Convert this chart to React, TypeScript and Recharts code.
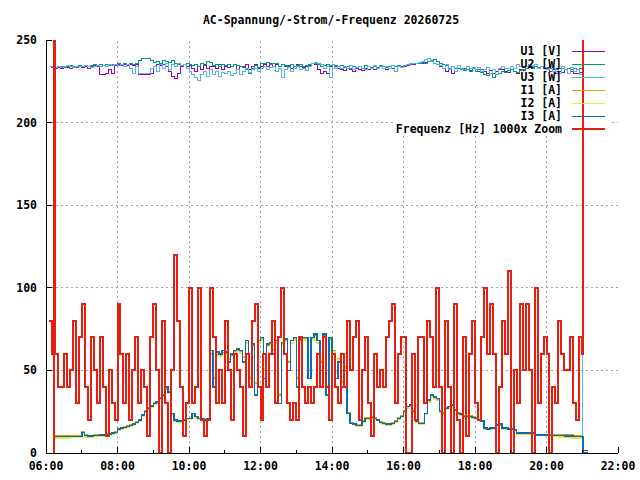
import React from "react";
import { LineChart, Line, XAxis, YAxis, Legend } from "recharts";

// sample times in minutes after midnight (5 min logger + two glitch samples at start and end)
const sampleMinutes = [
  365, 370, 373, 374, 375, 380, 385, 390, 395, 400, 405, 410, 415,
  ...Array.from({ length: 168 }, (_, i) => 420 + 5 * i),
  1260, 1261, 1270,
];

// voltages [V]
const u1 = [
  234, 233.5, 233.5, 233.5, 233, 233.5, 233, 234, 233.5, 233, 234, 233.5, 234,
  233.5, 234, 233, 234, 234.5, 234, 229, 229, 229.5, 232, 230, 234.5,
  235, 234.5, 235, 234.5, 235, 234.5, 235, 229, 229, 229, 229, 230,
  234, 235, 234.5, 235, 234, 231, 228, 226.5, 230, 234, 235, 234,
  234.5, 233, 231, 234, 232, 235, 233, 234, 234, 233, 235, 232,
  234, 233.5, 234, 235, 232, 234, 234, 235, 232, 234, 235, 233,
  234, 235, 234, 235.5, 234, 235, 234, 235, 234, 234.5, 233, 234,
  235, 234, 233.5, 234, 234.5, 235.5, 235, 232, 230, 231, 230, 234,
  235, 234, 233, 232, 231.5, 233, 232, 231, 233, 232, 231.5, 233,
  232, 233, 232, 233.5, 234, 233, 232, 234, 233, 231, 234, 233.5,
  234, 234.5, 235, 235, 235.5, 236, 236, 236.5, 237, 237.5, 238, 237,
  234, 233, 231, 232, 230, 231, 233, 232, 233, 232, 231.5, 233,
  232, 231, 232, 231, 230, 231.5, 230, 231, 232, 232, 231, 230.5,
  232, 231, 230, 232, 231.5, 233, 234, 233, 234, 233.5, 234, 233,
  233.5, 231, 232, 230, 231, 230.5, 232, 230, 231, 230, 229.5, 230.5,
  232, 1.5, 1.5,
];
const u2 = [
  234, 234, 234, 234, 233.5, 234, 234, 233.5, 234, 234.5, 234, 234, 234.5,
  234, 234.5, 234, 234.5, 235, 234.5, 235, 234.5, 235, 234.5, 235, 235,
  235.5, 235, 235.5, 235, 235.5, 235, 236, 237.5, 238.5, 239, 238.5, 237.5,
  236.5, 237, 236, 237.5, 237, 236.5, 237.5, 236, 235, 234.5, 235, 235.5,
  235, 234.5, 235, 234, 235.5, 234.5, 237, 236.5, 234.5, 235, 234, 235,
  234.5, 235, 234, 235, 234.5, 234, 233.5, 232, 230, 233, 234.5, 233.5,
  236, 235.5, 236.5, 235, 236, 235.5, 234, 235, 234.5, 234, 235, 234,
  234.5, 235, 234, 234.5, 235, 236, 235.5, 235, 234, 234.5, 235, 234.5,
  235, 234.5, 234, 234.5, 233.5, 234, 233, 234, 233.5, 234, 233, 234.5,
  234, 233.5, 234, 233, 234.5, 234, 233.5, 234, 233, 234, 234.5, 234,
  234.5, 235, 235, 235.5, 236, 235.5, 236.5, 236, 237, 237.5, 238, 237,
  236, 235, 234.5, 233, 234, 232.5, 233, 232, 231.5, 232, 231, 232.5,
  231, 232, 230.5, 229, 228.5, 229.5, 227.5, 229, 230, 231, 230.5, 231.5,
  232, 231, 230.5, 231.5, 232, 232.5, 233.5, 233, 234, 233.5, 234, 233,
  233, 232.5, 233, 232, 233, 232.5, 232, 233, 232, 232.5, 232, 233,
  232.5, 0.6, 0.6,
];
const u3 = [
  234, 234, 234, 0, 233.5, 234, 233.5, 234, 234.5, 234, 233.5, 234, 234,
  234, 234.5, 234, 233.5, 234, 234.5, 234, 234.5, 234, 235, 234.5, 235,
  234.5, 235, 234, 235, 233, 230, 234, 230, 229.5, 230, 229.5, 233,
  234, 231, 235, 233, 236, 232, 235, 234, 236, 234.5, 235, 233,
  231, 229, 227, 225.5, 229, 231, 228, 232, 229, 231, 228, 230.5,
  229.5, 231, 228.5, 230, 232, 229, 231, 233, 230.5, 232, 233, 231,
  233, 234, 232, 233.5, 234, 231, 233, 227, 232, 233.5, 231, 233,
  234, 232, 233, 231.5, 234, 236, 236.5, 236, 235, 233, 234, 227,
  235, 233, 234, 232.5, 234, 233, 234.5, 232, 233.5, 234, 233, 232,
  234, 233, 234.5, 233, 234, 232.5, 234, 233, 234.5, 231, 234, 233.5,
  234.5, 235, 235.5, 236, 235.5, 236.5, 237, 238, 238.5, 237, 236, 235,
  234.5, 233, 235, 232, 234, 231, 234.5, 233, 232, 234, 233, 233.5,
  232, 233.5, 231, 232, 233.5, 230, 232, 229, 233, 234, 232.5, 233,
  234, 233, 235, 234, 233.5, 234, 235, 234.5, 235, 233, 234, 233.5,
  232, 234, 231, 233, 230, 234, 232, 230, 233.5, 231, 232, 229,
  231, 0.4, 0.4,
];

// currents [A]
const i1 = [
  null, null, null, 10.3, 10.3, 10.3, 10.3, 10.3, 10.3, 10.3, 10.3, 10.3, 10.3,
  12.8, 10.8, 10.5, 10.6, 10.8, 10.9, 11.1, 11.3, 11.5, 11.8, 12.3, 12.8,
  14.6, 15.2, 15.7, 16.2, 16.8, 17.7, 18.8, 20.3, 23.3, 25.3, 27.3, 28.8,
  30.3, 31.3, 33.3, 35.3, 39, 36.5, 23.5, 19.5, 19, 19, 19.5, 20.5,
  20.8, 23.5, 21.5, 20.8, 20.5, 19.5, 20.5, 60, 45, 59.5, 59, 60.5,
  60, 57, 59, 61, 62, 61, 58, 67, 45, 65, 42, 67,
  69, 50, 65, 66, 62, 67, 35, 66, 68, 55, 67, 69,
  45, 68, 69, 69, 50, 69, 71, 67, 55, 71, 40, 69,
  62, 48, 57, 43, 52, 24.5, 18.5, 17.8, 17, 16.8, 19.3, 21.3,
  21.3, 21.8, 21.3, 20.3, 18.8, 18.3, 17.8, 17.8, 18.3, 19.3, 21.3, 22.3,
  25.3, 28, 28.8, 25.3, 19.3, 18.3, 18.3, 24, 31.5, 34.5, 33.5, 32.5,
  25.3, 24.3, 27.3, 28, 28.5, 26.3, 24.3, 23.8, 22.3, 22.3, 22.3, 21.8,
  21.3, 20.3, 19.8, 15.3, 14.8, 15.3, 15.3, 17.3, 17.8, 15.3, 15.3, 14.8,
  14.8, 14.3, 12.3, 12.3, 12.3, 12.3, 12.3, 12.3, 11.3, 11.3, 11.3, 11.3,
  11.3, 10.8, 10.8, 10.8, 10.8, 10.8, 11, 11, 11, 10.5, 10.3, 10.3,
  10.3, null, null,
];
const i2 = [
  null, null, null, 9.2, 9.2, 9.2, 9.2, 9.2, 9.2, 9.5, 9.5, 9.5, 9.5,
  12, 9.8, 9.6, 9.7, 9.9, 10, 10.2, 10.4, 10.6, 10.9, 11.4, 11.9,
  13.8, 14.4, 14.9, 15.4, 15.9, 16.9, 17.9, 19.4, 22.4, 24.4, 26.4, 27.9,
  29.4, 30.4, 32.4, 34.4, 38.5, 36, 23, 19, 18.7, 18.7, 19.2, 20.2,
  20.3, 23, 21, 20.3, 20.2, 19.2, 20.2, 59.5, 46, 59, 58.5, 60,
  59.5, 57.5, 58.5, 60.5, 61.5, 60.5, 58.5, 66.5, 46, 64.5, 43, 66.5,
  68.5, 51, 64.5, 65.5, 62.5, 66.5, 36, 65.5, 67.5, 56, 66.5, 68.5,
  46, 67.5, 68.5, 68.5, 51, 68.5, 70.5, 66.5, 56, 70.5, 41, 68.5,
  61.5, 48.5, 56.5, 43.5, 51.5, 23.8, 17.8, 17.2, 16.3, 16.1, 18.6, 20.6,
  20.6, 21.1, 20.6, 19.6, 18.1, 17.6, 17.1, 17.1, 17.6, 18.6, 20.6, 21.6,
  24.6, 27.3, 28.1, 24.6, 18.6, 17.6, 17.6, 23.3, 30.8, 33.8, 32.8, 31.8,
  24.6, 23.6, 26.6, 27.3, 27.8, 25.6, 23.6, 23.1, 21.6, 21.6, 21.6, 21.1,
  20.6, 19.6, 19.1, 14.6, 14.1, 14.6, 14.6, 16.6, 17.1, 14.6, 14.6, 14.1,
  14.1, 13.6, 11.6, 11.6, 11.6, 11.6, 11.6, 11.6, 10.6, 10.6, 10.6, 10.6,
  10.6, 10, 10, 10, 9.8, 9.8, 9.6, 9.3, 9.2, 9.2, 9.2, 9.2,
  9.2, null, null,
];
const i3 = [
  null, null, 0, 10, 10, 10, 10, 10, 10, 10, 10, 10, 10,
  12.5, 10.5, 10.2, 10.3, 10.5, 10.6, 10.8, 11, 11.2, 11.5, 12, 12.5,
  14.5, 15, 15.5, 16, 16.5, 17.5, 18.5, 20, 23, 25, 27, 28.5,
  30, 31, 33, 35, 40, 37, 24, 20, 19.5, 19.5, 20, 21,
  21, 24, 22, 21, 21, 20, 21, 62, 40, 61, 60, 62,
  61, 55, 60, 62, 63, 62, 55, 68, 40, 66, 35, 68,
  70, 45, 66, 67, 60, 68, 30, 67, 69, 50, 68, 70,
  40, 69, 70, 70, 45, 70, 72, 68, 50, 72, 35, 70,
  60, 45, 55, 40, 50, 24, 18, 17.5, 16.5, 16.5, 19, 21,
  21, 21.5, 21, 20, 18.5, 18, 17.5, 17.5, 18, 19, 21, 22,
  25, 28, 29, 25, 19, 18, 18, 24, 32, 35, 34, 33,
  25, 24, 27, 28, 29, 26, 24, 23.5, 22, 22, 22, 21.5,
  21, 20, 19.5, 15, 14.5, 15, 15, 17, 17.5, 15, 15, 14.5,
  14.5, 14, 12, 12, 12, 12, 12, 12, 11, 11, 11, 11,
  11, 10.5, 10.5, 10.5, 10.5, 10.5, 10.2, 10.2, 10.2, 10, 10, 10,
  10, 0.4, 0.4,
];

// frequency, (f - 49.95 Hz) * 1000; the glitch samples lie far outside the axis
const freq = [
  80, 60, -1000, 1000, 60, 40, 40, 60, 40, 50, 80, 30, 70,
  90, 40, 20, 70, 50, 30, 70, 40, 10, 50, 30, 20,
  90, 60, 30, 60, 20, 50, 70, 30, 50, 40, 10, 70,
  90, 50, 0, 80, 30, 0, 50, 120, 80, 40, 10, 30,
  100, 30, 40, 100, 20, 10, 20, 100, 70, 30, 50, 30,
  80, 50, 20, 60, 50, 40, 10, 60, 40, 80, 90, 40,
  20, 60, 40, 60, 80, 30, 70, 100, 60, 30, 20, 30,
  20, 70, 40, 30, 40, 30, 40, 60, 40, 70, 40, 20,
  60, 40, 30, 60, 40, 80, 50, 70, 80, 20, 50, 70,
  30, 10, 60, 40, 50, 40, 70, 80, 90, 30, 60, 70,
  70, 0, 0, 60, 20, 70, 70, 30, 80, 70, 40, 100,
  40, 0, 80, 40, 0, 90, 20, 0, 70, 10, 60, 80,
  30, 20, 70, 100, 60, 90, 60, 0, 40, 80, 60, 110,
  0, 50, 30, 90, 50, 90, 50, 0, 100, 30, 60, 70,
  60, 0, 40, 30, 80, 60, 50, 50, 70, 30, 20, 70,
  60, 1000, 1000,
];

const xTicks = [360, 420, 480, 540, 600, 660, 720, 780, 840, 900, 960, 1020, 1080, 1140, 1200, 1260, 1320];
const yTicks = [0, 50, 100, 150, 200, 250];
const gridX = [480, 600, 720, 840, 960, 1080, 1200];
const gridY = [50, 100, 150, 200];

const series = [
  { key: "u1", name: "U1 [V]", color: "#9400d3", width: 1 },
  { key: "u2", name: "U2 [W]", color: "#009e73", width: 1 },
  { key: "u3", name: "U3 [W]", color: "#56b4e9", width: 1 },
  { key: "i1", name: "I1 [A]", color: "#e69f00", width: 1.5 },
  { key: "i2", name: "I2 [A]", color: "#f0e442", width: 1.5 },
  { key: "i3", name: "I3 [A]", color: "#0072b2", width: 1.5 },
  { key: "f", name: "Frequenz [Hz] 1000x Zoom", color: "#e51e10", width: 2 },
];

const rows = sampleMinutes.map((t, i) => ({
  t,
  u1: u1[i],
  u2: u2[i],
  u3: u3[i],
  i1: i1[i],
  i2: i2[i],
  i3: i3[i],
  f: freq[i],
}));

// gnuplot keeps the grid out of the key box (top right corner)
const KEY_BOTTOM = 192;
const KEY_LEFT = 946;
const KEY_RIGHT = 1310;
const X_MIN = 360;
const X_MAX = 1320;
const Y_MAX = 250;

// grid lines as two-point segments in data units, drawn below the series
const gridSegments = [
  ...gridX.map((v) => [
    { t: v, g: 0 },
    { t: v, g: v > KEY_LEFT ? KEY_BOTTOM : Y_MAX },
  ]),
  ...gridY.map((v) => [
    { t: X_MIN, g: v },
    { t: v >= KEY_BOTTOM ? KEY_LEFT : X_MAX, g: v },
  ]),
  [
    { t: KEY_RIGHT, g: 200 },
    { t: X_MAX, g: 200 },
  ],
];

const FONT = '"DejaVu Sans Mono", "Liberation Mono", monospace';
const tickText = { fontFamily: FONT, fontSize: 11.5, fontWeight: "bold" as const, fill: "#000" };

const hhmm = (m: number) => `${String(Math.floor(m / 60)).padStart(2, "0")}:00`;
const isMajor = (m: number) => (m / 60) % 2 === 0;

function BottomTick(props: any) {
  const { x, y, payload } = props;
  const major = isMajor(payload.value);
  return (
    <g>
      <line x1={x} y1={y} x2={x} y2={y - (major ? 6 : 3)} stroke="#000" />
      {major && (
        <text x={x} y={y + 17} textAnchor="middle" style={tickText}>
          {hhmm(payload.value)}
        </text>
      )}
    </g>
  );
}

function TopTick(props: any) {
  const { x, y, payload } = props;
  const major = isMajor(payload.value);
  return <line x1={x} y1={y} x2={x} y2={y + (major ? 6 : 3)} stroke="#000" />;
}

function LeftTick(props: any) {
  const { x, y, payload } = props;
  return (
    <g>
      <line x1={x} y1={y} x2={x + 6} y2={y} stroke="#000" />
      <text x={x - 9} y={y + 4} textAnchor="end" style={tickText}>
        {payload.value}
      </text>
    </g>
  );
}

function RightTick(props: any) {
  const { x, y } = props;
  return <line x1={x} y1={y} x2={x - 6} y2={y} stroke="#000" />;
}

function KeyBox() {
  return (
    <div style={{ fontFamily: FONT, fontSize: 11.5, fontWeight: "bold", color: "#000" }}>
      {series.map((s) => (
        <div
          key={s.key}
          style={{ height: 13, lineHeight: "13px", display: "flex", justifyContent: "flex-end", alignItems: "center" }}
        >
          <span style={{ whiteSpace: "pre" }}>{s.name}</span>
          <span style={{ display: "inline-block", width: 10 }} />
          <span style={{ display: "inline-block", width: 33, height: s.key === "f" ? 2 : 1, background: s.color }} />
        </div>
      ))}
    </div>
  );
}

export default function App() {
  return (
    <div style={{ position: "absolute", left: 0, top: 0, width: 640, height: 480, background: "#fff" }}>
      <div
        style={{
          position: "absolute",
          left: 331,
          top: 14,
          transform: "translateX(-50%)",
          whiteSpace: "nowrap",
          fontFamily: FONT,
          fontSize: 11.5,
          fontWeight: "bold",
          lineHeight: "12px",
          zIndex: 2,
        }}
      >
        AC-Spannung/-Strom/-Frequenz 20260725
      </div>
      <LineChart
        width={640}
        height={480}
        data={rows}
        margin={{ top: 40, right: 22, bottom: 0, left: 8 }}
        style={{ shapeRendering: "crispEdges" }}
      >
        <XAxis
          xAxisId="b"
          orientation="bottom"
          type="number"
          dataKey="t"
          domain={[X_MIN, X_MAX]}
          ticks={xTicks}
          interval={0}
          height={27}
          tickSize={0}
          tickMargin={0}
          tickLine={false}
          axisLine={{ stroke: "#000" }}
          tick={BottomTick}
        />
        <XAxis
          xAxisId="t"
          orientation="top"
          type="number"
          dataKey="t"
          domain={[X_MIN, X_MAX]}
          ticks={xTicks}
          interval={0}
          height={0}
          tickSize={0}
          tickMargin={0}
          tickLine={false}
          axisLine={{ stroke: "#000" }}
          tick={TopTick}
        />
        <YAxis
          yAxisId="l"
          orientation="left"
          type="number"
          domain={[0, Y_MAX]}
          ticks={yTicks}
          interval={0}
          allowDataOverflow
          width={38}
          tickSize={0}
          tickMargin={0}
          tickLine={false}
          axisLine={{ stroke: "#000" }}
          tick={LeftTick}
        />
        <YAxis
          yAxisId="r"
          orientation="right"
          type="number"
          domain={[0, Y_MAX]}
          ticks={yTicks}
          interval={0}
          width={0}
          tickSize={0}
          tickMargin={0}
          tickLine={false}
          axisLine={{ stroke: "#000" }}
          tick={RightTick}
        />
        {gridSegments.map((seg, i) => (
          <Line
            key={`grid${i}`}
            xAxisId="b"
            yAxisId="l"
            data={seg}
            dataKey="g"
            type="linear"
            stroke="#a0a0a0"
            strokeWidth={1}
            strokeDasharray="2 3"
            dot={false}
            activeDot={false}
            legendType="none"
            isAnimationActive={false}
          />
        ))}
        {series.map((s) => (
          <Line
            key={s.key}
            xAxisId="b"
            yAxisId="l"
            type="stepAfter"
            dataKey={s.key}
            name={s.name}
            stroke={s.color}
            strokeWidth={s.width}
            dot={false}
            activeDot={false}
            isAnimationActive={false}
          />
        ))}
        <Legend
          layout="horizontal"
          align="center"
          verticalAlign="middle"
          content={() => <KeyBox />}
          wrapperStyle={{ position: "absolute", left: 0, top: 44.5, width: 605, height: "auto" }}
        />
      </LineChart>
    </div>
  );
}
